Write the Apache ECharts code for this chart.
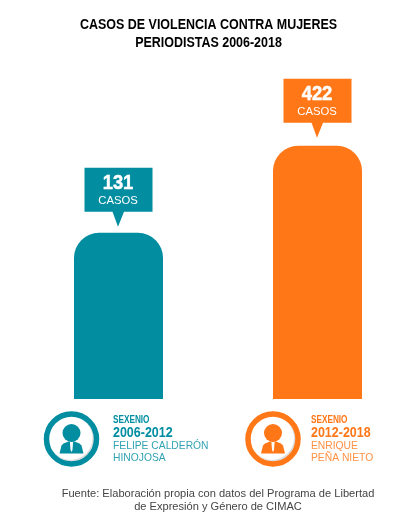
<!DOCTYPE html>
<html><head><meta charset="utf-8">
<style>html,body{margin:0;padding:0;background:#fff}#c{width:413px;height:527px}</style>
<script src="https://cdn.jsdelivr.net/npm/echarts@6/dist/echarts.min.js"></script>
</head><body><div id="c"></div>
<script>
const categories = ['2006-2012', '2012-2018'];
const cases = [131, 422];
const colors = ['#028DA1', '#FF7717'];
const periods = ['SEXENIO', 'SEXENIO'];
const names = [['FELIPE CALDERÓN', 'HINOJOSA'], ['ENRIQUE', 'PEÑA NIETO']];
const unitLabel = 'CASOS';
const titleLines = ['CASOS DE VIOLENCIA CONTRA MUJERES', 'PERIODISTAS 2006-2018'];
const sourceLines = ['Fuente: Elaboración propia con datos del Programa de Libertad', 'de Expresión y Género de CIMAC'];

const calloutGap = [21, 23];
const sans = '"Liberation Sans",Arial,sans-serif';

function txt(x, y, text, font, fill, align, sx, opacity, bolder) {
  const style = {text, font, fill, align: align || 'left', verticalAlign: 'middle', opacity: opacity == null ? 1 : opacity};
  if (bolder) { style.stroke = fill; style.lineWidth = bolder; }
  return {type: 'text', x, y, scaleX: sx || 1, silent: true, style};
}
function badge(i, cx, tx) {
  const c = colors[i], cy = 439, hy = 433;
  return [
    {type: 'circle', shape: {cx: cx + 1, cy: cy + 1, r: 22}, style: {fill: '#dcdcdc'}},
    {type: 'circle', shape: {cx: cx - 1, cy: cy - 1, r: 22}, style: {fill: '#fff'}},
    {type: 'circle', shape: {cx, cy, r: 25}, style: {fill: 'none', stroke: c, lineWidth: 5.5}},
    {type: 'circle', shape: {cx, cy: hy, r: 9}, style: {fill: c}},
    {type: 'polygon', shape: {points: [[cx-12,453.5],[cx-10,445.5],[cx-8,443.5],[cx-3,441.5],[cx+3,441.5],[cx+8,443.5],[cx+10,445.5],[cx+12,453.5]]}, style: {fill: c}},
    {type: 'polygon', shape: {points: [[cx-1.6,442],[cx+1.6,442],[cx+1,450],[cx,452],[cx-1,450]]}, style: {fill: '#fff'}},
    txt(tx, 420.5, periods[i], 'bold 10px ' + sans, c, 'left', 0.82),
    txt(tx, 433, categories[i], 'bold 14.5px ' + sans, c, 'left', 0.86),
    txt(tx, 446, names[i][0], '10.3px ' + sans, c, 'left', 1, 0.82),
    txt(tx, 458, names[i][1], '10.3px ' + sans, c, 'left', 1, 0.82)
  ];
}

const chart = echarts.init(document.getElementById('c'), null, {renderer: 'canvas'});
chart.setOption({
  animation: false,
  backgroundColor: '#fff',
  grid: {left: 19, width: 398, top: 60, bottom: 128, outerBoundsMode: 'none'},
  xAxis: {type: 'category', data: categories, show: false},
  yAxis: {type: 'log', min: 14, max: 1340, show: false},
  series: [
    {
      type: 'bar', barWidth: 89, clip: true,
      data: cases.map((v, i) => ({value: v, itemStyle: {color: colors[i], borderRadius: [25, 25, 0, 0]}}))
    },
    {
      type: 'custom', clip: false, silent: true,
      data: cases.map((v, i) => [i, v]),
      encode: {x: 0, y: 1},
      renderItem(params, api) {
        const i = params.dataIndex;
        const p = api.coord([api.value(0), api.value(1)]);
        const x = p[0], bottom = p[1] - calloutGap[i], top = bottom - 44;
        return {type: 'group', children: [
          {type: 'polygon', shape: {points: [[x-34,top],[x+34,top],[x+34,bottom],[x+5.5,bottom],[x-0.5,bottom+15],[x-6,bottom],[x-34,bottom]]}, style: {fill: colors[i]}},
          txt(x - 0.5, top + 16, String(cases[i]), 'bold 20px ' + sans, '#fff', 'center', 0.92, 1, 0.5),
          txt(x - 0.5, top + 33, unitLabel, '11.3px ' + sans, '#fff', 'center')
        ]};
      }
    }
  ],
  graphic: {elements: [
    txt(208.5, 24.5, titleLines[0], 'bold 14.5px ' + sans, '#000', 'center', 0.86),
    txt(208.5, 43, titleLines[1], 'bold 14.5px ' + sans, '#000', 'center', 0.86),
    ...badge(0, 71.5, 113),
    ...badge(1, 273, 311),
    txt(218, 494, sourceLines[0], '11.1px ' + sans, '#444', 'center'),
    txt(218, 507, sourceLines[1], '11.1px ' + sans, '#444', 'center')
  ]}
});
</script></body></html>
